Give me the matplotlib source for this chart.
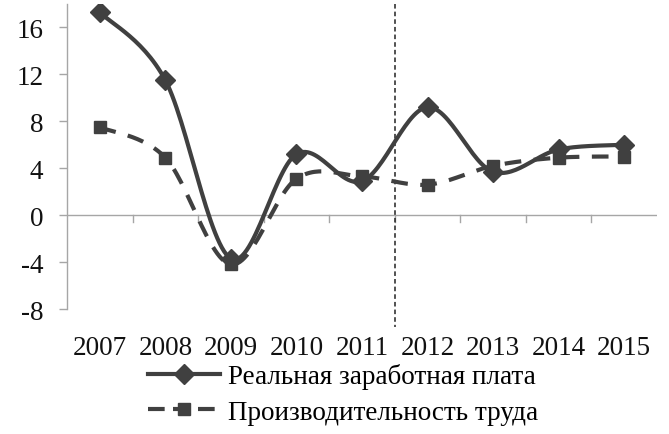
import numpy as np
import matplotlib
matplotlib.use("Agg")
import matplotlib.pyplot as plt
from matplotlib.transforms import blended_transform_factory
from matplotlib.lines import Line2D

years = ["2007", "2008", "2009", "2010", "2011", "2012", "2013", "2014", "2015"]
wages = [17.3, 11.5, -3.7, 5.2, 2.9, 9.2, 3.7, 5.6, 6.0]
productivity = [7.5, 4.9, -4.2, 3.1, 3.3, 2.6, 4.2, 4.9, 5.0]
y_ticks = [-8, -4, 0, 4, 8, 12, 16]
label_wages = "Реальная заработная плата"
label_prod = "Производительность труда"

plt.rcParams['font.family'] = ['Liberation Serif', 'DejaVu Serif']
FS = 19.5

def smooth(xs, ys, n=30):
    # Excel-like smoothed line: cubic Bezier with control points from neighbours
    P = np.column_stack([xs, ys]).astype(float)
    out = []
    for i in range(len(P) - 1):
        p0 = P[i - 1] if i > 0 else P[i]
        p1, p2 = P[i], P[i + 1]
        p3 = P[i + 2] if i + 2 < len(P) else P[i + 1]
        c1 = p1 + (p2 - p0) / 6.0
        c2 = p2 - (p3 - p1) / 6.0
        t = np.linspace(0, 1, n)[:, None]
        seg = ((1 - t) ** 3) * p1 + 3 * ((1 - t) ** 2) * t * c1 + 3 * (1 - t) * t ** 2 * c2 + t ** 3 * p2
        out.append(seg if i == 0 else seg[1:])
    S = np.vstack(out)
    return S[:, 0], S[:, 1]

DARK = "#404040"
GRAY = "#a6a6a6"
LW = 3.0

fig = plt.figure(figsize=(6.69, 4.35), dpi=100)
ax = fig.add_axes([67 / 669, (435 - 310) / 435, (657 - 67) / 669, (310 - 5) / 435])
x = np.arange(len(years))

sx, sy = smooth(x, wages)
ax.plot(sx, sy, color=DARK, lw=LW, solid_capstyle='round', zorder=3)
ax.plot(x, wages, ls='none', marker='D', ms=10, color=DARK, zorder=4)

px, py = smooth(x, productivity)
ax.plot(px, py, color=DARK, lw=LW, dashes=(4, 3), zorder=3)
ax.plot(x, productivity, ls='none', marker='s', ms=8, color=DARK, zorder=4)

ax.set_xlim(-0.5, len(years) - 0.5)
ax.set_ylim(-8, 18)
for s in ['top', 'right', 'bottom']:
    ax.spines[s].set_visible(False)
ax.spines['left'].set_color(GRAY)
ax.spines['left'].set_linewidth(1.0)
ax.set_yticks(y_ticks)
ax.set_yticklabels([str(v) for v in y_ticks], fontsize=FS, color='#111111')
ax.tick_params(axis='y', length=6, color=GRAY, width=1.0, pad=11)
ax.set_xticks([])

# horizontal axis at zero with category boundary ticks
ax.axhline(0, color=GRAY, lw=1.0, zorder=1)
for b in np.arange(0.5, len(years) - 0.5, 1.0):
    ax.plot([b, b], [0, -0.6], color=GRAY, lw=1.0, zorder=1)

# vertical dashed separator between 2011 and 2012
ax.plot([4.5, 4.5], [18, -9.5], color="#222222", lw=1.1, ls=(0, (3, 2)), clip_on=False, zorder=2)

tr = blended_transform_factory(ax.transData, fig.transFigure)
for xi, lab in zip(x, years):
    ax.text(xi, (435 - 349) / 435, lab, transform=tr, ha='center', va='center', fontsize=FS, color='#111111')

h1 = Line2D([], [], color=DARK, lw=LW, marker='D', ms=10)
h2 = Line2D([], [], color=DARK, lw=LW, dashes=(4, 2), marker='s', ms=8)
fig.legend([h1, h2], [label_wages, label_prod], loc='upper left',
           bbox_to_anchor=(148 / 669, 1 - 364 / 435), frameon=False, fontsize=FS,
           handlelength=2.67, handletextpad=0.3, labelspacing=0.39, borderaxespad=0, borderpad=0)

fig.savefig("out.png", dpi=100)
